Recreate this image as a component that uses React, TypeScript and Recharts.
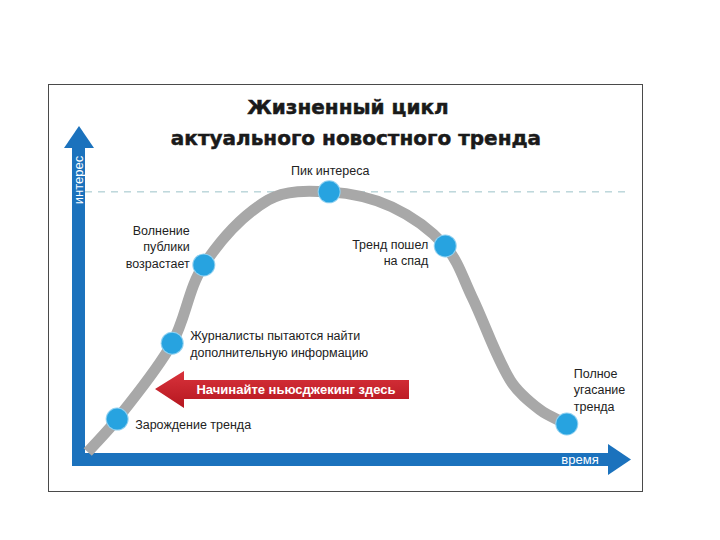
import React from "react";
import {
  ComposedChart,
  Line,
  Scatter,
  XAxis,
  YAxis,
  ReferenceLine,
} from "recharts";

// curve of the trend (time vs interest, 0..100 units)
const curveTime = [0.5, 5.9, 16.0, 21.8, 33.6, 44.8, 56.3, 66.1, 71.0, 78.0, 83.5, 88.4];
const curveInterest = [0.3, 10.4, 33.7, 57.7, 77.6, 80.1, 75.5, 63.5, 47.9, 22.4, 13.2, 8.9];

// stages marked with dots
const stageNames = [
  "Зарождение тренда",
  "Журналисты пытаются найти\nдополнительную информацию",
  "Волнение\nпублики\nвозрастает",
  "Пик интереса",
  "Тренд пошел\nна спад",
  "Полное\nугасание\nтренда",
];
const stageTime = [5.9, 16.0, 21.8, 44.8, 66.1, 88.4];
const stageInterest = [10.4, 33.7, 57.7, 80.1, 63.5, 8.9];

const peakInterest = 80.1;

const titleLines = ["Жизненный цикл", "актуального новостного тренда"];
const yAxisLabel = "интерес";
const xAxisLabel = "время";
const calloutText = "Начинайте ньюсджекинг здесь";

const curveData = curveTime.map((t, i) => ({ t, v: curveInterest[i] }));
const stageData = stageTime.map((t, i) => ({ t, v: stageInterest[i], name: stageNames[i] }));

// label placement relative to each dot: dx, dy of the first line, anchor
const labelPos = [
  { dx: 18, dy: 7, anchor: "start" },
  { dx: 18, dy: -6, anchor: "start" },
  { dx: -14, dy: -33, anchor: "end" },
  { dx: 1, dy: -20, anchor: "middle" },
  { dx: -17, dy: 0, anchor: "end" },
  { dx: 7, dy: -49, anchor: "start" },
];

const BLUE = "#1b72bd";
const DOT = "#27a3e0";
const FONT = "'Liberation Sans', Arial, sans-serif";

// smooth curve through the points: tangent follows neighbours,
// handle length is a third of each segment (no overshoot on uneven spacing)
function smoothCurve(context: any) {
  let pts: number[][] = [];
  const dir = (i: number) => {
    const a = pts[Math.max(i - 1, 0)];
    const b = pts[Math.min(i + 1, pts.length - 1)];
    const dx = b[0] - a[0];
    const dy = b[1] - a[1];
    const len = Math.hypot(dx, dy) || 1;
    return [dx / len, dy / len];
  };
  return {
    areaStart() {},
    areaEnd() {},
    lineStart() {
      pts = [];
    },
    point(x: number, y: number) {
      pts.push([+x, +y]);
    },
    lineEnd() {
      if (!pts.length) return;
      context.moveTo(pts[0][0], pts[0][1]);
      for (let i = 0; i < pts.length - 1; i++) {
        const p1 = pts[i];
        const p2 = pts[i + 1];
        const L = Math.hypot(p2[0] - p1[0], p2[1] - p1[1]) / 3;
        const d1 = dir(i);
        const d2 = dir(i + 1);
        context.bezierCurveTo(
          p1[0] + d1[0] * L,
          p1[1] + d1[1] * L,
          p2[0] - d2[0] * L,
          p2[1] - d2[1] * L,
          p2[0],
          p2[1]
        );
      }
    },
  };
}

function StageDot(props: any) {
  const { cx, cy, index } = props;
  const p = labelPos[index] || { dx: 14, dy: 0, anchor: "start" };
  const lines = String(props.payload?.name || "").split("\n");
  return (
    <g>
      <circle cx={cx} cy={cy} r={11.5} fill="#8fd0f0" />
      <circle cx={cx} cy={cy} r={10.5} fill={DOT} />
      <text
        x={cx + p.dx}
        y={cy + p.dy}
        textAnchor={p.anchor}
        fontFamily={FONT}
        fontSize={12.5}
        fill="#222"
        dominantBaseline="middle"
      >
        {lines.map((l, i) => (
          <tspan key={i} x={cx + p.dx} dy={i === 0 ? 0 : 16.5}>
            {l}
          </tspan>
        ))}
      </text>
    </g>
  );
}

function Decorations() {
  return (
    <svg width={720} height={540} style={{ position: "absolute", left: 0, top: 0 }}>
      <rect x={0} y={0} width={720} height={540} fill="#fff" />
      <rect x={48.5} y={84.5} width={594} height={407} fill="none" stroke="#4a4a4a" strokeWidth={1} />
      <g
        fontFamily="'DejaVu Sans', sans-serif"
        fontWeight="bold"
        fontSize={20}
        fill="#1a1a1a"
        stroke="#1a1a1a"
        strokeWidth={0.5}
        textAnchor="middle"
      >
        <text x={348} y={114}>{titleLines[0]}</text>
        <text x={356} y={145}>{titleLines[1]}</text>
      </g>
      {/* y axis arrow */}
      <rect x={72} y={146} width={13} height={320} fill={BLUE} />
      <polygon points="64,148 79,126 94,148" fill={BLUE} />
      <text
        x={0}
        y={0}
        transform="translate(83,180) rotate(-90)"
        textAnchor="middle"
        fontFamily={FONT}
        fontSize={13}
        fill="#fff"
      >
        {yAxisLabel}
      </text>
      {/* x axis arrow */}
      <rect x={72} y={453} width={538} height={13} fill={BLUE} />
      <polygon points="608,444 631,459.5 608,475" fill={BLUE} />
      <text x={580} y={464} textAnchor="middle" fontFamily={FONT} fontSize={13} fill="#fff">
        {xAxisLabel}
      </text>
    </svg>
  );
}

function Callout() {
  return (
    <svg width={720} height={540} style={{ position: "absolute", left: 0, top: 0, pointerEvents: "none" }}>
      <defs>
        <linearGradient id="redg" x1="0" y1="0" x2="0" y2="1">
          <stop offset="0" stopColor="#d9333c" />
          <stop offset="1" stopColor="#b5161f" />
        </linearGradient>
      </defs>
      <polygon
        points="155,389 184,371 184,380 409,380 409,399 184,399 184,408"
        fill="url(#redg)"
      />
      <text
        x={296}
        y={394}
        textAnchor="middle"
        fontFamily={FONT}
        fontWeight="bold"
        fontSize={13}
        fill="#fff"
      >
        {calloutText}
      </text>
    </svg>
  );
}

export default function App() {
  return (
    <div style={{ position: "absolute", left: 0, top: 0, width: 720, height: 540, background: "#fff" }}>
      <Decorations />
      <div style={{ position: "absolute", left: 0, top: 0 }}>
        <ComposedChart
          width={720}
          height={540}
          margin={{ top: 127, left: 85, right: 90, bottom: 87 }}
        >
          <XAxis type="number" dataKey="t" domain={[0, 100]} hide />
          <YAxis type="number" dataKey="v" domain={[0, 100]} hide />
          <ReferenceLine
            y={peakInterest}
            stroke="#9cc3c8"
            strokeWidth={1}
            strokeDasharray="7 6"
            segment={[
              { x: 1.5, y: peakInterest },
              { x: 100.5, y: peakInterest },
            ]}
            ifOverflow="visible"
          />
          <Line
            data={curveData}
            dataKey="v"
            type={smoothCurve as any}
            stroke="#a8a8a8"
            strokeWidth={11}
            dot={false}
            activeDot={false}
            isAnimationActive={false}
          />
          <Scatter
            data={stageData}
            dataKey="v"
            shape={<StageDot />}
            isAnimationActive={false}
          />
        </ComposedChart>
      </div>
      <Callout />
    </div>
  );
}
